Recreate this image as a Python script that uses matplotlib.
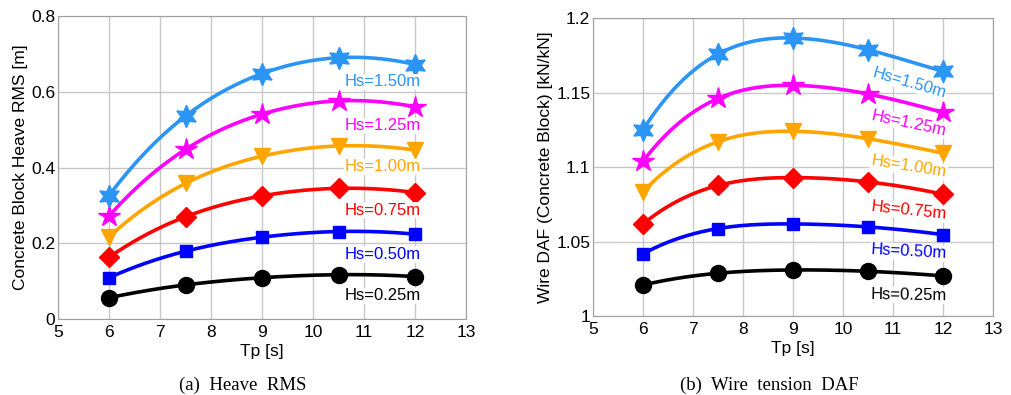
import numpy as np
import matplotlib
matplotlib.use("Agg")
import matplotlib.pyplot as plt

# ---------------- data ----------------
tp = [6, 7.5, 9, 10.5, 12]
hs_labels = ["Hs=0.25m", "Hs=0.50m", "Hs=0.75m", "Hs=1.00m", "Hs=1.25m", "Hs=1.50m"]

heave_025 = [0.056, 0.090, 0.109, 0.117, 0.112]
heave_050 = [0.109, 0.179, 0.216, 0.231, 0.224]
heave_075 = [0.163, 0.270, 0.325, 0.345, 0.334]
heave_100 = [0.217, 0.358, 0.430, 0.457, 0.446]
heave_125 = [0.272, 0.448, 0.541, 0.576, 0.560]
heave_150 = [0.326, 0.536, 0.648, 0.690, 0.672]

daf_025 = [1.0208, 1.0287, 1.0309, 1.0300, 1.0269]
daf_050 = [1.0417, 1.0587, 1.0618, 1.0598, 1.0546]
daf_075 = [1.0618, 1.0876, 1.0929, 1.0900, 1.0817]
daf_100 = [1.0835, 1.1170, 1.1240, 1.1190, 1.1093]
daf_125 = [1.1039, 1.1460, 1.1548, 1.1490, 1.1366]
daf_150 = [1.1250, 1.1758, 1.1866, 1.1787, 1.1642]

heave_label_y = [0.061, 0.1705, 0.2875, 0.402, 0.510, 0.626]
daf_label_y = [1.0141, 1.0430, 1.0705, 1.1000, 1.1295, 1.1564]
daf_label_rot = [1, 3, 6, 9, 12, 16]

colors = ["#000000", "#0000FF", "#FF0000", "#FFA500", "#FF00FF", "#2B95F5"]
markers = ["o", "s", "D", "v", "*", (6, 1, 0)]
msizes = [11.5, 9, 10.5, 11.5, 16, 16]


def spline_notaknot(x, y, xs):
    """Cubic spline (not-a-knot) evaluated at xs, for drawing a smooth line."""
    x = np.asarray(x, float)
    y = np.asarray(y, float)
    n = len(x) - 1
    A = np.zeros((4 * n, 4 * n))
    b = np.zeros(4 * n)
    r = 0
    for i in range(n):
        h = x[i + 1] - x[i]
        A[r, 4 * i] = 1; b[r] = y[i]; r += 1
        A[r, 4 * i:4 * i + 4] = [1, h, h ** 2, h ** 3]; b[r] = y[i + 1]; r += 1
    for i in range(n - 1):
        h = x[i + 1] - x[i]
        A[r, 4 * i:4 * i + 4] = [0, 1, 2 * h, 3 * h ** 2]; A[r, 4 * (i + 1) + 1] = -1; r += 1
        A[r, 4 * i:4 * i + 4] = [0, 0, 2, 6 * h]; A[r, 4 * (i + 1) + 2] = -2; r += 1
    A[r, 3] = 1; A[r, 7] = -1; r += 1
    A[r, 4 * (n - 2) + 3] = 1; A[r, 4 * (n - 1) + 3] = -1; r += 1
    coef = np.linalg.solve(A, b)
    out = np.empty_like(xs)
    for k, xv in enumerate(xs):
        i = min(max(np.searchsorted(x, xv) - 1, 0), n - 1)
        t = xv - x[i]
        a0, a1, a2, a3 = coef[4 * i:4 * i + 4]
        out[k] = a0 + a1 * t + a2 * t ** 2 + a3 * t ** 3
    return out


plt.rcParams['font.family'] = ['Liberation Sans', 'DejaVu Sans']

fig = plt.figure(figsize=(10.11, 3.95), dpi=100)
ax1 = fig.add_axes([0.0574, 0.1924, 0.4036, 0.767])
ax2 = fig.add_axes([0.5866, 0.2000, 0.3956, 0.7544])

xs = np.linspace(tp[0], tp[-1], 200)

heave = [heave_025, heave_050, heave_075, heave_100, heave_125, heave_150]
daf = [daf_025, daf_050, daf_075, daf_100, daf_125, daf_150]

for ax, series in ((ax1, heave), (ax2, daf)):
    for s, c, m, ms in zip(series, colors, markers, msizes):
        ax.plot(xs, spline_notaknot(tp, s, xs), color=c, lw=2.6, zorder=3)
        ax.plot(tp, s, linestyle='none', marker=m, color=c, markersize=ms,
                markeredgecolor=c, zorder=4)
    ax.set_xlim(5, 13)
    ax.set_xticks(range(5, 14))
    ax.grid(True, color='#c8c8c8', lw=1.0)
    ax.set_axisbelow(True)
    for sp in ax.spines.values():
        sp.set_color('#a0a0a0')
    ax.tick_params(length=0, labelsize=12.5)
    ax.tick_params(axis='x', pad=4.5)
    ax.tick_params(axis='y', pad=2)
    ax.set_xlabel("Tp [s]", fontsize=12.5, labelpad=3)

ax1.set_ylim(0, 0.8)
ax1.set_yticks([0, 0.2, 0.4, 0.6, 0.8])
ax1.set_yticklabels(["0", "0.2", "0.4", "0.6", "0.8"])
ax1.set_ylabel("Concrete Block Heave RMS [m]", fontsize=12.5, labelpad=2)

ax2.set_ylim(1, 1.2)
ax2.set_yticks([1, 1.05, 1.1, 1.15, 1.2])
ax2.set_yticklabels(["1", "1.05", "1.1", "1.15", "1.2"])
ax2.set_ylabel("Wire DAF (Concrete Block) [kN/kN]", fontsize=12.5, labelpad=2)

for lab, yv, c in zip(hs_labels, heave_label_y, colors):
    ax1.text(11.37, yv, lab, color=c, fontsize=12, ha='center', va='center', zorder=5,
             bbox=dict(facecolor='white', edgecolor='none', pad=0.5))

for lab, yv, rot, c in zip(hs_labels, daf_label_y, daf_label_rot, colors):
    ax2.text(11.32, yv, lab, color=c, fontsize=12, ha='center', va='center',
             rotation=-rot, rotation_mode='anchor', zorder=5,
             bbox=dict(facecolor='white', edgecolor='none', pad=0.5))

fig.text(243 / 1011, 1 - 385 / 395, "(a)  Heave  RMS", family='Liberation Serif',
         fontsize=13.5, ha='center', va='center')
fig.text(769 / 1011, 1 - 385 / 395, "(b)  Wire  tension  DAF", family='Liberation Serif',
         fontsize=13.5, ha='center', va='center')

fig.savefig("out.png", dpi=100)
